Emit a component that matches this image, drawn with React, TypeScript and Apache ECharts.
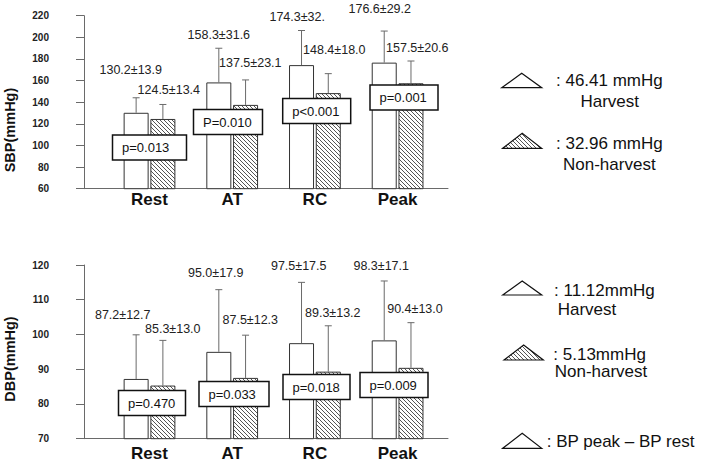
import React, { useEffect, useRef } from 'react';
import * as echarts from 'echarts';

// ---------- data ----------
const categories = ['Rest', 'AT', 'RC', 'Peak'];

const sbpHarvestMean = [130.2, 158.3, 174.3, 176.6];
const sbpHarvestSd = [13.9, 31.6, 32.0, 29.2];
const sbpNonHarvestMean = [124.5, 137.5, 148.4, 157.5];
const sbpNonHarvestSd = [13.4, 23.1, 18.0, 20.6];
const sbpHarvestLabels = ['130.2±13.9', '158.3±31.6', '174.3±32.', '176.6±29.2'];
const sbpNonHarvestLabels = ['124.5±13.4', '137.5±23.1', '148.4±18.0', '157.5±20.6'];
const sbpPValues = ['p=0.013', 'P=0.010', 'p<0.001', 'p=0.001'];

const dbpHarvestMean = [87.2, 95.0, 97.5, 98.3];
const dbpHarvestSd = [12.7, 17.9, 17.5, 17.1];
const dbpNonHarvestMean = [85.3, 87.5, 89.3, 90.4];
const dbpNonHarvestSd = [13.0, 12.3, 13.2, 13.0];
const dbpHarvestLabels = ['87.2±12.7', '95.0±17.9', '97.5±17.5', '98.3±17.1'];
const dbpNonHarvestLabels = ['85.3±13.0', '87.5±12.3', '89.3±13.2', '90.4±13.0'];
const dbpPValues = ['p=0.470', 'p=0.033', 'p=0.018', 'p=0.009'];

const sbpAxis = { min: 60, max: 220, interval: 20 };
const dbpAxis = { min: 70, max: 120, interval: 10 };

const legendSbp = [': 46.41 mmHg', 'Harvest', ': 32.96 mmHg', 'Non-harvest'];
const legendDbp = [': 11.12mmHg', 'Harvest', ': 5.13mmHg', 'Non-harvest'];
const legendNote = ': BP peak \u2013 BP rest';

// ---------- layout (pixels) ----------
const FONT = '"Liberation Sans", Arial, sans-serif';
const BAR_W = 25;
const BAR_OFF = (BAR_W * 1.07) / 2;

const sbpHLabelOff = [[-5.4, -27.8], [0, -13.3], [-4.3, -13.8], [-4.5, -22]];
const sbpNLabelOff = [[5.9, -14.5], [4.7, -16.9], [6, -23.7], [6.3, -13]];
const dbpHLabelOff = [[-13.4, -19.8], [-3.1, -16.7], [-2.8, -16.4], [-3, -15]];
const dbpNLabelOff = [[9.9, -11.4], [4.7, -15.2], [4.5, -13.1], [4, -13.7]];

const sbpBoxOff = [[0, -41.2], [-4.2, -66.7], [1.8, -77.7], [6.4, -91.2]];
const sbpBoxW = [74, 69, 68, 68];
const dbpBoxOff = [[2.5, -35.7], [1.8, -44.7], [1.6, -51.7], [-3.6, -53.7]];
const dbpBoxW = [67, 70, 67, 68];

function hatchPattern() {
  const size = 4;
  const c = document.createElement('canvas');
  c.width = size;
  c.height = size;
  const ctx = c.getContext('2d')!;
  ctx.fillStyle = '#ffffff';
  ctx.fillRect(0, 0, size, size);
  ctx.fillStyle = '#555555';
  for (let i = 0; i < size; i++) ctx.fillRect(i, i, 1, 1);
  return { image: c.toDataURL(), repeat: 'repeat', imageWidth: size, imageHeight: size } as any;
}

function errorSeries(xi: number, yi: number, means: number[], sds: number[], side: number) {
  return {
    type: 'custom',
    xAxisIndex: xi,
    yAxisIndex: yi,
    silent: true,
    z: 3,
    data: means.map((m, i) => [i, m, sds[i]]),
    encode: { x: 0, y: 1 },
    renderItem: (params: any, api: any) => {
      const base = api.coord([api.value(0), api.value(1)]);
      const top = api.coord([api.value(0), api.value(1) + api.value(2)]);
      const x = base[0] + side * BAR_OFF;
      const st = { stroke: '#6a6a6a', lineWidth: 1 };
      return {
        type: 'group',
        children: [
          { type: 'line', shape: { x1: x, y1: base[1], x2: x, y2: top[1] }, style: st },
          { type: 'line', shape: { x1: x - 3.5, y1: top[1], x2: x + 3.5, y2: top[1] }, style: st },
        ],
      };
    },
  };
}

function labelSeries(xi: number, yi: number, means: number[], sds: number[], side: number, labels: string[], offs: number[][]) {
  return {
    type: 'custom',
    xAxisIndex: xi,
    yAxisIndex: yi,
    silent: true,
    z: 4,
    data: means.map((m, i) => [i, m, sds[i]]),
    encode: { x: 0, y: 1 },
    renderItem: (params: any, api: any) => {
      const i = params.dataIndex;
      const top = api.coord([api.value(0), api.value(1) + api.value(2)]);
      return {
        type: 'text',
        x: top[0] + side * BAR_OFF + offs[i][0],
        y: top[1] + offs[i][1],
        style: {
          text: labels[i],
          fill: '#222',
          font: `12.5px ${FONT}`,
          align: 'center',
          verticalAlign: 'middle',
          textAlign: 'center',
          textVerticalAlign: 'middle',
        },
      };
    },
  };
}

function boxSeries(xi: number, yi: number, yMin: number, texts: string[], offs: number[][], widths: number[]) {
  return {
    type: 'custom',
    xAxisIndex: xi,
    yAxisIndex: yi,
    silent: true,
    z: 5,
    data: texts.map((_, i) => [i, yMin]),
    encode: { x: 0, y: 1 },
    renderItem: (params: any, api: any) => {
      const i = params.dataIndex;
      const p = api.coord([api.value(0), api.value(1)]);
      const w = widths[i];
      const h = 25;
      const cx = p[0] + offs[i][0];
      const cy = p[1] + offs[i][1];
      return {
        type: 'group',
        children: [
          {
            type: 'rect',
            shape: { x: cx - w / 2, y: cy - h / 2, width: w, height: h },
            style: { fill: '#fff', stroke: '#111', lineWidth: 1.5 },
          },
          {
            type: 'text',
            x: cx - w / 2 + 9.5,
            y: cy,
            style: {
              text: texts[i],
              fill: '#111',
              font: `13px ${FONT}`,
              align: 'left',
              verticalAlign: 'middle',
              textAlign: 'left',
              textVerticalAlign: 'middle',
            },
          },
        ],
      };
    },
  };
}

function triangle(x0: number, x1: number, yTop: number, yBase: number, fill: any) {
  return {
    type: 'polygon',
    shape: { points: [[x0, yBase], [(x0 + x1) / 2, yTop], [x1, yBase]] },
    style: { fill, stroke: '#111', lineWidth: 1.2 },
  };
}

function gText(text: string, x: number, y: number, align: string, size = 17, extra: any = {}) {
  return {
    type: 'text',
    x,
    y,
    ...extra,
    style: {
      text,
      fill: '#111',
      font: `${extra.bold ? 'bold ' : ''}${size}px ${FONT}`,
      align,
      verticalAlign: 'middle',
      textAlign: align,
      textVerticalAlign: 'middle',
    },
  };
}

export default function App() {
  const ref = useRef<HTMLDivElement>(null);

  useEffect(() => {
    if (!ref.current) return;
    const chart = echarts.init(ref.current, undefined, { renderer: 'svg' });
    const hatch = hatchPattern();

    const gridsTop = { top: 15.7, height: 173 };
    const gridsBot = { top: 265, height: 173.7 };

    const axisLineStyle = { color: '#6a6a6a', width: 1 };

    const valueYAxis = (gi: number, ax: any) => ({
      gridIndex: gi,
      type: 'value',
      min: ax.min,
      max: ax.max,
      interval: ax.interval,
      axisLine: { show: true, onZero: false, lineStyle: axisLineStyle },
      axisTick: { show: true, length: 8, lineStyle: axisLineStyle },
      axisLabel: { margin: 35, fontFamily: FONT, fontSize: 10, fontWeight: 'bold', color: '#222' },
      splitLine: { show: false },
    });
    const hiddenYAxis = (gi: number, ax: any) => ({
      gridIndex: gi,
      type: 'value',
      min: ax.min,
      max: ax.max,
      show: false,
      splitLine: { show: false },
    });
    const lineXAxis = (gi: number) => ({
      gridIndex: gi,
      type: 'value',
      min: 0,
      max: 1,
      axisLine: { show: true, onZero: false, lineStyle: axisLineStyle },
      axisTick: { show: false },
      axisLabel: { show: false },
      splitLine: { show: false },
    });
    const catXAxis = (gi: number, margin: number) => ({
      gridIndex: gi,
      type: 'category',
      data: categories,
      axisLine: { show: false },
      axisTick: { show: false },
      axisLabel: { margin, fontFamily: FONT, fontSize: 17, fontWeight: 'bold', color: '#111' },
      splitLine: { show: false },
    });

    const barStyleH = { color: '#ffffff', borderColor: '#333', borderWidth: 1 };
    const barStyleN = { color: hatch, borderColor: '#333', borderWidth: 1 };

    const option: any = {
      animation: false,
      backgroundColor: '#ffffff',
      grid: [
        { left: 84, width: 364, ...gridsTop },
        { left: 108.15, width: 330.8, ...gridsTop },
        { left: 84, width: 364, ...gridsBot },
        { left: 108.15, width: 330.8, ...gridsBot },
      ],
      xAxis: [lineXAxis(0), catXAxis(1, 2), lineXAxis(2), catXAxis(3, 6)],
      yAxis: [valueYAxis(0, sbpAxis), hiddenYAxis(1, sbpAxis), valueYAxis(2, dbpAxis), hiddenYAxis(3, dbpAxis)],
      series: [
        {
          name: 'Harvest SBP', type: 'bar', xAxisIndex: 1, yAxisIndex: 1,
          data: sbpHarvestMean, barWidth: BAR_W, barGap: '7%', itemStyle: barStyleH, z: 2,
        },
        {
          name: 'Non-harvest SBP', type: 'bar', xAxisIndex: 1, yAxisIndex: 1,
          data: sbpNonHarvestMean, barWidth: BAR_W, barGap: '7%', itemStyle: barStyleN, z: 2,
        },
        errorSeries(1, 1, sbpHarvestMean, sbpHarvestSd, -1),
        errorSeries(1, 1, sbpNonHarvestMean, sbpNonHarvestSd, 1),
        labelSeries(1, 1, sbpHarvestMean, sbpHarvestSd, -1, sbpHarvestLabels, sbpHLabelOff),
        labelSeries(1, 1, sbpNonHarvestMean, sbpNonHarvestSd, 1, sbpNonHarvestLabels, sbpNLabelOff),
        boxSeries(1, 1, sbpAxis.min, sbpPValues, sbpBoxOff, sbpBoxW),
        {
          name: 'Harvest DBP', type: 'bar', xAxisIndex: 3, yAxisIndex: 3,
          data: dbpHarvestMean, barWidth: BAR_W, barGap: '7%', itemStyle: barStyleH, z: 2,
        },
        {
          name: 'Non-harvest DBP', type: 'bar', xAxisIndex: 3, yAxisIndex: 3,
          data: dbpNonHarvestMean, barWidth: BAR_W, barGap: '7%', itemStyle: barStyleN, z: 2,
        },
        errorSeries(3, 3, dbpHarvestMean, dbpHarvestSd, -1),
        errorSeries(3, 3, dbpNonHarvestMean, dbpNonHarvestSd, 1),
        labelSeries(3, 3, dbpHarvestMean, dbpHarvestSd, -1, dbpHarvestLabels, dbpHLabelOff),
        labelSeries(3, 3, dbpNonHarvestMean, dbpNonHarvestSd, 1, dbpNonHarvestLabels, dbpNLabelOff),
        boxSeries(3, 3, dbpAxis.min, dbpPValues, dbpBoxOff, dbpBoxW),
      ],
      graphic: [
        gText('SBP(mmHg)', 10, 130, 'center', 14.5, { bold: true, rotation: Math.PI / 2 }),
        gText('DBP(mmHg)', 10, 359, 'center', 14.5, { bold: true, rotation: Math.PI / 2 }),

        triangle(501.7, 541.7, 73.3, 87.7, '#fff'),
        gText(legendSbp[0], 556, 80, 'left'),
        gText(legendSbp[1], 609.7, 101.7, 'center'),
        triangle(502.7, 541.7, 133.3, 148.3, hatch),
        gText(legendSbp[2], 556, 143.3, 'left'),
        gText(legendSbp[3], 609.3, 164, 'center'),

        triangle(502.7, 541.7, 281, 295, '#fff'),
        gText(legendDbp[0], 554, 290, 'left'),
        gText(legendDbp[1], 587, 309.3, 'center'),
        triangle(504, 543.3, 345, 360, hatch),
        gText(legendDbp[2], 553.3, 354, 'left'),
        gText(legendDbp[3], 601, 371.7, 'center'),

        triangle(502.7, 541.7, 433.3, 448.3, '#fff'),
        gText(legendNote, 546.7, 441.7, 'left'),
      ],
    };

    chart.setOption(option);
    return () => chart.dispose();
  }, []);

  return (
    <div
      ref={ref}
      style={{ position: 'fixed', left: 0, top: 0, width: 703, height: 462, background: '#fff' }}
    />
  );
}
